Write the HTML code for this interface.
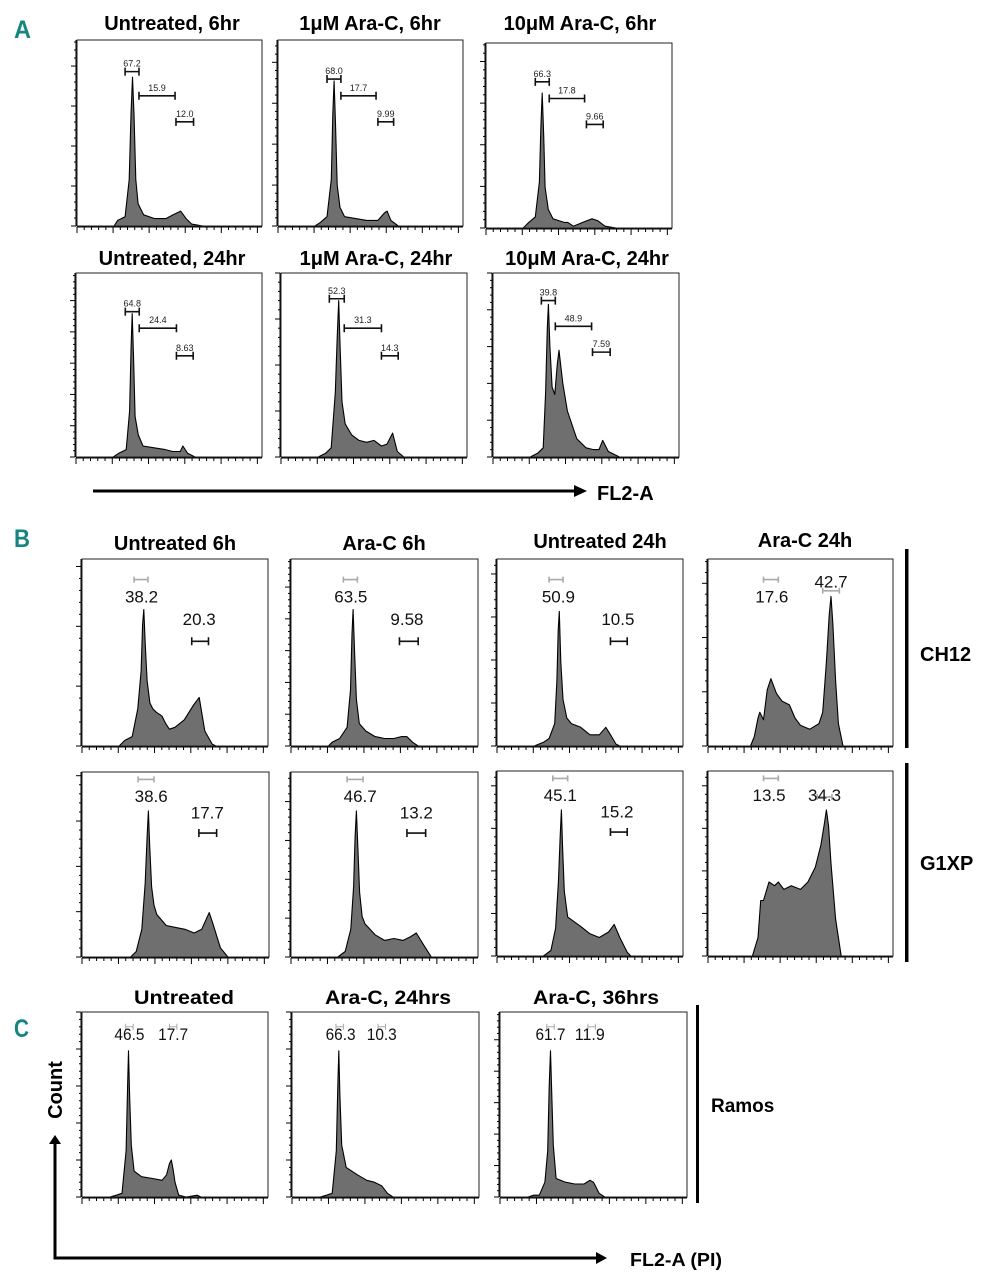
<!DOCTYPE html>
<html><head><meta charset="utf-8">
<style>
html,body{margin:0;padding:0;background:#fff;}
svg{display:block;font-family:"Liberation Sans",Arial,sans-serif;}
</style></head>
<body>
<svg id="fig" xmlns="http://www.w3.org/2000/svg" width="997" height="1280" viewBox="0 0 997 1280">
<rect width="997" height="1280" fill="#fff"/>
<g font-weight="bold">
  <text x="14" y="38" font-size="25" fill="#16857f" textLength="17" lengthAdjust="spacingAndGlyphs">A</text>
  <text x="14" y="547" font-size="25" fill="#16857f" textLength="16" lengthAdjust="spacingAndGlyphs">B</text>
  <text x="14" y="1037" font-size="25" fill="#16857f" textLength="15" lengthAdjust="spacingAndGlyphs">C</text>

  <g font-size="20" text-anchor="middle">
  <text x="172" y="30">Untreated, 6hr</text>
  <text x="370" y="30">1μM Ara-C, 6hr</text>
  <text x="580" y="30">10μM Ara-C, 6hr</text>
  <text x="172" y="265">Untreated, 24hr</text>
  <text x="376" y="265">1μM Ara-C, 24hr</text>
  <text x="587" y="265">10μM Ara-C, 24hr</text>
  <text x="175" y="550">Untreated 6h</text>
  <text x="384" y="550">Ara-C 6h</text>
  <text x="600" y="548">Untreated 24h</text>
  <text x="805" y="547">Ara-C 24h</text>
  </g>
  <g font-size="19" text-anchor="middle">
  <text x="184" y="1004" textLength="100" lengthAdjust="spacingAndGlyphs">Untreated</text>
  <text x="388" y="1004" textLength="126" lengthAdjust="spacingAndGlyphs">Ara-C, 24hrs</text>
  <text x="596" y="1004" textLength="126" lengthAdjust="spacingAndGlyphs">Ara-C, 36hrs</text>
  </g>

  <text x="920" y="661" font-size="20">CH12</text>
  <text x="920" y="870" font-size="20">G1XP</text>
  <text x="711" y="1112" font-size="19">Ramos</text>
  <rect x="905" y="549" width="3.5" height="199" fill="#000"/>
  <rect x="905" y="763" width="3.5" height="199" fill="#000"/>
  <rect x="696" y="1005" width="3" height="198" fill="#000"/>

  <line x1="93" y1="491" x2="576" y2="491" stroke="#000" stroke-width="3"/>
  <polygon points="574,485 587,491 574,497" fill="#000"/>
  <text x="597" y="500" font-size="20">FL2-A</text>

  <polyline points="55,1142 55,1258 598,1258" fill="none" stroke="#000" stroke-width="3"/>
  <polygon points="49,1144 55,1135 61,1144" fill="#000"/>
  <polygon points="596,1252 607,1258 596,1264" fill="#000"/>
  <text x="630" y="1266" font-size="18" textLength="92" lengthAdjust="spacingAndGlyphs">FL2-A (PI)</text>
  <text transform="translate(62,1090) rotate(-90)" x="0" y="0" font-size="20" text-anchor="middle">Count</text>
</g>
<g id="plots"></g>
</svg>
<script>
// Histogram data: channel positions (0-1000 of FL2-A axis) and counts (% of max axis height)
const xA1=[200,220,260,282,292,300,308,318,330,360,420,480,520,560,590,620,680];
const yA1=[0,3,5,25,60,80,60,25,12,6,4,4,6,8,4,1,0];
const xA2=[200,230,265,288,296,303,311,320,335,360,420,480,540,575,590,610,650];
const yA2=[0,2,5,25,60,78,55,22,10,5,4,3,3,7,8,3,0];
const xA3=[200,230,265,287,295,302,310,318,335,360,420,440,470,520,570,600,640,700];
const yA3=[0,3,6,25,55,73,50,22,10,5,3,3,1,3,5,4,1,0];
const xA4=[200,230,270,288,296,302,309,318,335,360,420,480,520,560,575,600,640];
const yA4=[0,2,4,25,60,78,55,22,12,6,5,4,3,3,6,2,0];
const xA5=[200,240,270,292,302,310,318,328,345,380,420,460,500,540,570,600,625,660];
const yA5=[0,2,5,35,65,85,60,30,18,12,9,8,9,6,7,13,3,0];
const xA6=[200,240,270,283,292,298,306,318,332,345,355,375,400,450,500,540,570,590,620,680];
const yA6=[0,2,5,35,70,83,60,38,34,50,58,40,25,10,5,4,4,9,3,0];
const xB1=[200,230,270,300,318,326,332,340,350,365,380,400,430,450,470,500,550,600,630,660,700,720];
const yB1=[0,3,5,20,40,65,73,55,35,23,20,18,16,12,9,10,14,22,26,8,1,0];
const xB2=[200,220,260,300,318,326,332,340,350,365,400,450,500,550,590,620,650,680];
const yB2=[0,2,4,10,30,60,73,50,25,12,8,5,4,4,5,5,2,0];
const xB3=[200,250,280,310,322,329,335,343,355,375,400,450,500,550,585,610,640,660];
const yB3=[0,2,4,12,35,62,72,45,25,15,12,10,6,6,10,6,1,0];
const xB4=[230,250,270,280,300,320,340,370,400,440,470,500,550,600,620,640,655,665,675,690,705,730];
const yB4=[0,5,15,18,14,30,36,28,24,22,15,11,9,12,18,45,70,80,65,35,12,0];
const xB5=[260,290,320,338,348,355,362,372,385,400,450,500,550,600,640,680,700,740,780];
const yB5=[0,3,15,40,65,79,60,38,28,23,17,16,15,13,15,24,18,5,0];
const xB6=[250,290,320,335,343,350,357,367,380,395,450,500,550,600,640,670,700,750];
const yB6=[0,3,15,38,65,79,60,35,22,18,12,9,10,9,11,13,8,0];
const xB7=[250,290,315,330,340,346,352,362,380,450,500,550,600,630,660,700,720];
const yB7=[0,3,15,40,65,79,60,35,21,16,12,10,13,17,10,2,0];
const xB8=[240,270,285,300,330,360,380,410,450,500,540,580,610,630,640,652,665,690,720];
const yB8=[0,10,30,30,40,38,40,36,38,36,40,48,60,72,79,70,50,20,0];
const xC1=[150,185,215,237,245,250,256,265,280,320,380,430,455,470,480,490,500,520,560,620,640];
const yC1=[0,1,2,25,60,79,55,28,14,11,10,9,12,18,20,15,8,1,0,1,0];
const xC2=[150,185,215,237,245,250,256,266,290,350,400,440,480,510,540];
const yC2=[0,1,2,25,60,79,55,28,16,12,9,8,6,2,0];
const xC3=[150,180,210,240,255,263,270,277,285,300,350,400,450,480,500,530,560];
const yC3=[0,1,1,8,25,60,79,55,28,10,8,7,7,9,8,2,0];

// Gate data: [x start, x end, y level, label]
const gA1=[[260,335,83,'67.2'],[335,530,70,'15.9'],[535,630,56,'12.0']];
const gA2=[[265,340,79,'68.0'],[340,530,70,'17.7'],[540,625,56,'9.99']];
const gA3=[[265,340,79,'66.3'],[340,530,70,'17.8'],[540,630,56,'9.66']];
const gA4=[[265,340,79,'64.8'],[340,540,70,'24.4'],[540,630,55,'8.63']];
const gA5=[[260,340,86,'52.3'],[340,540,70,'31.3'],[540,630,55,'14.3']];
const gA6=[[260,335,85,'39.8'],[335,530,71,'48.9'],[535,630,57,'7.59']];
// B/C gates: [x0,x1,bracketY,label,labelX,labelY,gray]
const gB1=[[280,355,89,'38.2',320,80,1],[590,680,56,'20.3',630,68,0]];
const gB2=[[280,355,89,'63.5',320,80,1],[580,680,56,'9.58',620,68,0]];
const gB3=[[280,355,89,'50.9',330,80,1],[610,700,56,'10.5',650,68,0]];
const gB4=[[300,380,89,'17.6',345,80,1],[620,710,83,'42.7',665,88,1]];
const gB5=[[300,385,96,'38.6',370,87,1],[625,720,67,'17.7',670,78,0]];
const gB6=[[300,385,96,'46.7',370,87,1],[620,720,67,'13.2',670,78,0]];
const gB7=[[300,380,96,'45.1',340,87,1],[610,700,67,'15.2',645,78,0]];
const gB8=[[300,380,96,'13.5',330,87,1],[590,670,86,'34.3',630,87,1]];
const gC1=[[235,275,92,'46.5',255,88,1],[470,510,92,'17.7',490,88,1]];
const gC2=[[235,275,92,'66.3',260,88,1],[460,500,92,'10.3',480,88,1]];
const gC3=[[250,290,92,'61.7',270,88,1],[470,510,92,'11.9',480,88,1]];

const NS='http://www.w3.org/2000/svg';
const root=document.getElementById('plots');
function mk(tag,attrs,parent){const e=document.createElementNS(NS,tag);for(const k in attrs)e.setAttribute(k,attrs[k]);parent.appendChild(e);return e;}

function panel(name,x,y,w,h,ystep,xs,ys,gates,style){
  const g=mk('g',{},root);
  
  
  const sx=v=>x+v/1000*w, sy=v=>y+h-v/100*h;
  let d='M'+sx(xs[0])+','+(y+h);
  for(let i=0;i<xs.length;i++) d+=' L'+sx(xs[i]).toFixed(1)+','+sy(ys[i]).toFixed(1);
  d+=' L'+sx(xs[xs.length-1])+','+(y+h)+' Z';
  const hp=mk('path',{d:d,fill:'#6f6f6f',stroke:'#000','stroke-width':1.1,'stroke-linejoin':'round'},g);
  
  
  const fr=mk('rect',{x:x,y:y,width:w,height:h,fill:'none',stroke:'#222','stroke-width':1},g);
  
  
  const xt=mk('g',{stroke:'#000','stroke-width':1},g);
  
  
  mk('line',{x1:x,y1:y+h+1,x2:x+w,y2:y+h+1},xt);
  const mj=0.195*w;
  for(let i=0;i*mj/5<=w+0.5;i++){const px=x+i*mj/5;const major=i%5===0;mk('line',{x1:px,y1:y+h+1,x2:px,y2:y+h+(major?7:4)},xt);}
  const yt=mk('g',{stroke:'#000','stroke-width':1},g);
  
  
  mk('line',{x1:x-1,y1:y,x2:x-1,y2:y+h},yt);
  const ms=ystep*h;
  for(let i=0;i*ms/5<=h+0.5;i++){const py=y+h-i*ms/5;const major=i%5===0;mk('line',{x1:x-(major?6:3),y1:py,x2:x-1,y2:py},yt);}
  gates.forEach(gt=>{
    const gg=mk('g',{},g);
    
    
    const x0=sx(gt[0]),x1=sx(gt[1]),by=sy(gt[2]);
    if(style==='A'){
      mk('path',{d:`M${x0},${by-4}V${by+4}M${x0},${by}H${x1}M${x1},${by-4}V${by+4}`,stroke:'#111','stroke-width':1.6,fill:'none'},gg);
      const t=mk('text',{x:(x0+x1)/2,y:by-5,'font-size':9,'text-anchor':'middle',fill:'#222'},gg);t.textContent=gt[3];
    } else {
      const gray=gt[6]===1;
      const col=gray?'#aaa':'#111';const tk=gray?3:4;
      mk('path',{d:`M${x0},${by-tk}V${by+tk}M${x0},${by}H${x1}M${x1},${by-tk}V${by+tk}`,stroke:col,'stroke-width':style==='C'?1:1.6,fill:'none'},gg);
      const t=mk('text',{x:sx(gt[4]),y:sy(gt[5])+6,'font-size':17,'text-anchor':'middle',fill:'#111'},gg);
      if(style==='C'){t.setAttribute('textLength',30);t.setAttribute('lengthAdjust','spacingAndGlyphs');}
      t.textContent=gt[3];
    }
  });
}

panel('histogram-untreated-6hr',77,40,185,186,0.215,xA1,yA1,gA1,'A');
panel('histogram-1um-6hr',278,40,185,186,0.22,xA2,yA2,gA2,'A');
panel('histogram-10um-6hr',486,43,186,185,0.225,xA3,yA3,gA3,'A');
panel('histogram-untreated-24hr',76,273,186,184,0.17,xA4,yA4,gA4,'A');
panel('histogram-1um-24hr',281,273,186,184,0.25,xA5,yA5,gA5,'A');
panel('histogram-10um-24hr',493,273,186,184,0.2,xA6,yA6,gA6,'A');
panel('histogram-ch12-untreated-6h',82,559,186,187,0.32,xB1,yB1,gB1,'B');
panel('histogram-ch12-arac-6h',291,559,187,187,0.17,xB2,yB2,gB2,'B');
panel('histogram-ch12-untreated-24h',497,559,186,187,0.23,xB3,yB3,gB3,'B');
panel('histogram-ch12-arac-24h',708,559,185,187,0.29,xB4,yB4,gB4,'B');
panel('histogram-g1xp-untreated-6h',82,772,187,185,0.245,xB5,yB5,gB5,'B');
panel('histogram-g1xp-arac-6h',291,772,187,185,0.21,xB6,yB6,gB6,'B');
panel('histogram-g1xp-untreated-24h',497,771,186,185,0.23,xB7,yB7,gB7,'B');
panel('histogram-g1xp-arac-24h',708,771,185,185,0.23,xB8,yB8,gB8,'B');
panel('histogram-ramos-untreated',82,1012,186,185,0.2,xC1,yC1,gC1,'C');
panel('histogram-ramos-arac-24hrs',292,1012,187,185,0.2,xC2,yC2,gC2,'C');
panel('histogram-ramos-arac-36hrs',500,1012,187,185,0.17,xC3,yC3,gC3,'C');
</script>
</body></html>
